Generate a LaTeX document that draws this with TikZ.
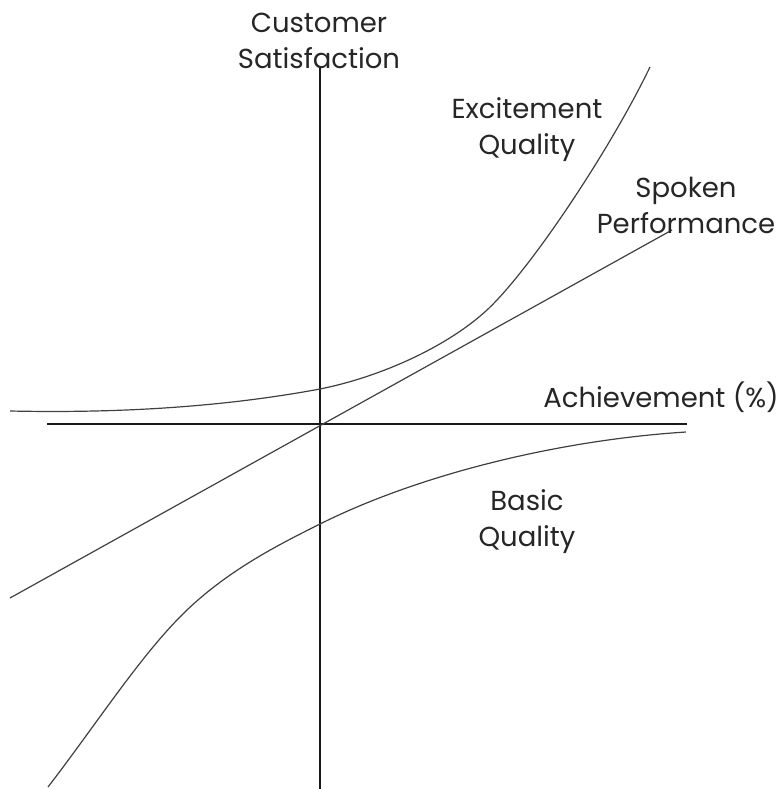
\documentclass[tikz,border=0pt]{standalone}
\usepackage{fontspec}
\setmainfont{Poppins}
\begin{document}
\begin{tikzpicture}[x=1pt,y=-1pt,
  axisline/.style={line width=1.6pt,black!90},
  curveline/.style={line width=1.2pt,black!75},
  lbl/.style={align=center,font=\fontsize{27.5}{36}\selectfont,text=black!85,inner sep=0pt}]
\useasboundingbox (0,0) rectangle (780,789);
% axes
\coordinate (xl) at (47,424);
\coordinate (xr) at (687,424);
\coordinate (yt) at (320,67);
\coordinate (yb) at (320,789);
\draw[axisline] (xl) -- (xr);
\draw[axisline] (yt) -- (yb);
% spoken performance line
\coordinate (sl) at (10,598);
\coordinate (sr) at (672,230);
\draw[curveline] (sl) -- (sr);
% excitement quality curve
\coordinate (e0) at (10,411);
\coordinate (e1) at (320,389);
\coordinate (e2) at (487,310);
\coordinate (e3) at (650,67);
\draw[curveline] (e0) .. controls (150,414) and (250,402) .. (e1)
  .. controls (380,377) and (447,347) .. (e2)
  .. controls (530,270) and (610,150) .. (e3);
% basic quality curve
\coordinate (b0) at (48,787);
\coordinate (b1) at (187,610);
\coordinate (b2) at (320,524);
\coordinate (b3) at (686,432);
\draw[curveline] (b0) .. controls (98,722) and (142,653) .. (b1)
  .. controls (230,569) and (280,544) .. (b2)
  .. controls (420,474) and (560,440) .. (b3);
% labels
\node[lbl] (cs) at (319,41) {Customer\\Satisfaction};
\node[lbl] (eq) at (527,130) {Excitement\\Quality};
\node[lbl] (sp) at (686,205) {Spoken\\Performance};
\node[lbl] (ach) at (661,397) {Achievement (\%)};
\node[lbl] (bq) at (527,522) {Basic\\Quality};
\end{tikzpicture}
\end{document}
